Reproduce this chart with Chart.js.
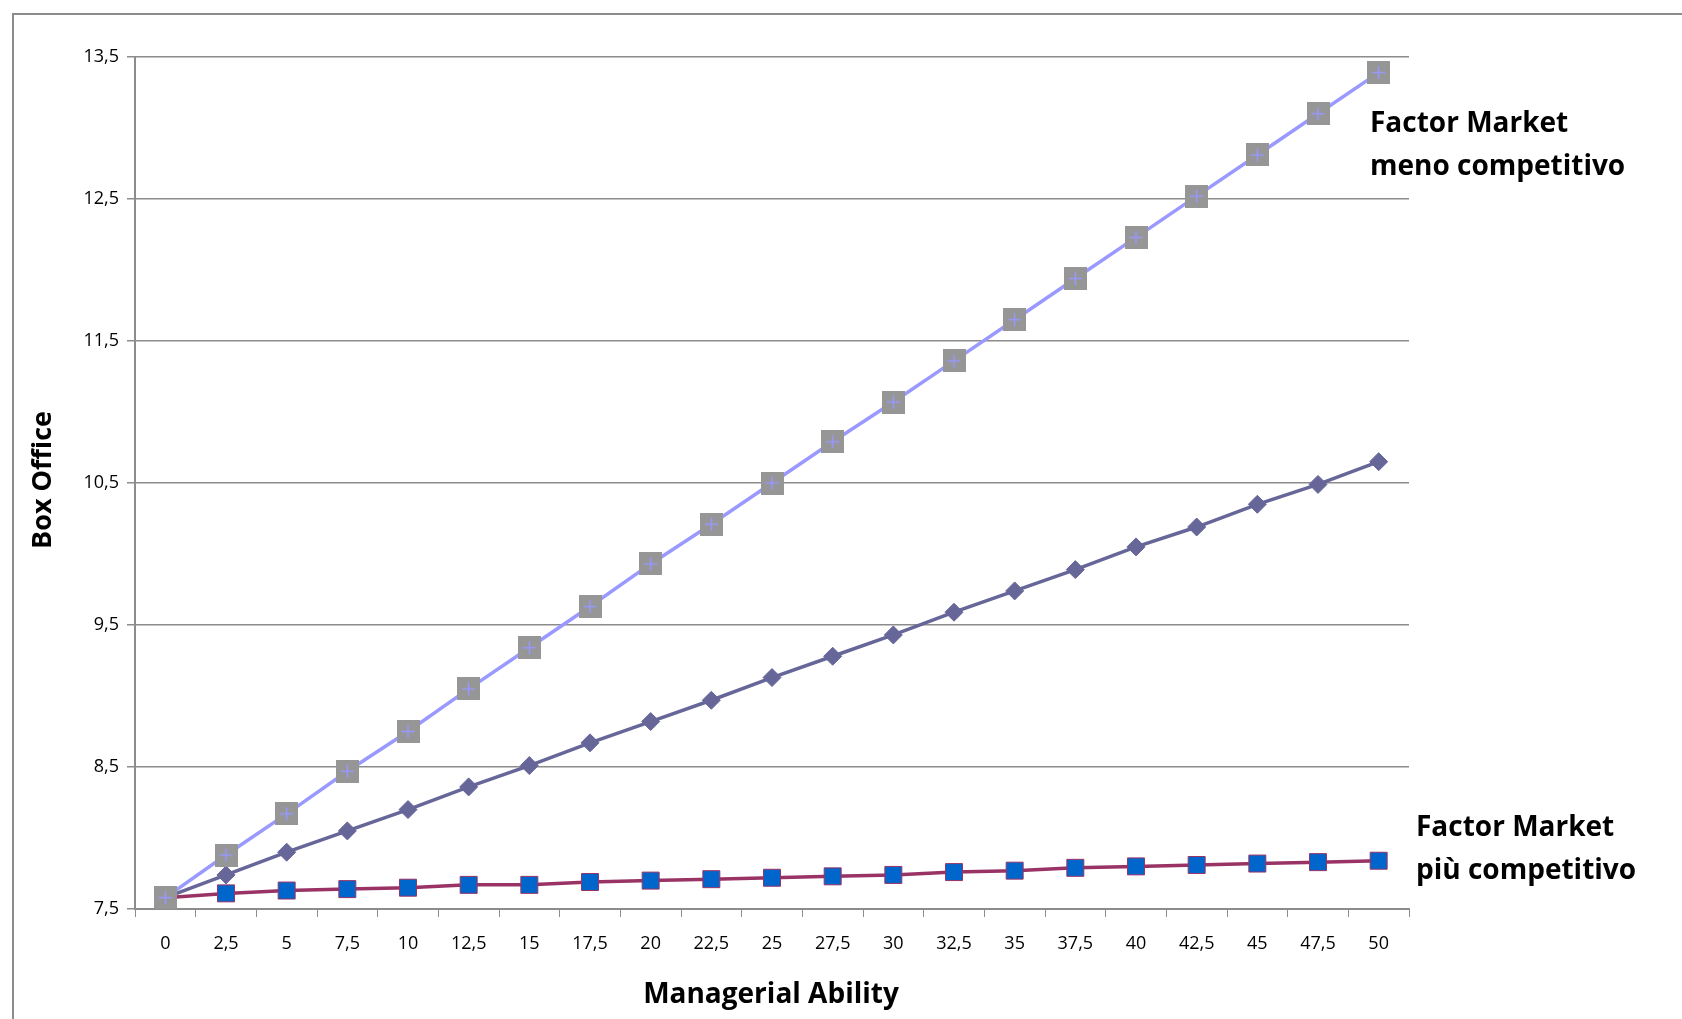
<!DOCTYPE html>
<html>
<head>
<meta charset="utf-8">
<script src="https://cdn.jsdelivr.net/npm/chart.js@4.4.1/dist/chart.umd.min.js"></script>
<style>
  body { margin: 0; background: #fff; overflow: hidden; }
  #wrap { position: relative; width: 1682px; height: 1019px; }
  #frame { position: absolute; left: 12px; top: 13px; width: 1700px; height: 1100px; border: 2px solid #8c8c8c; }
  #chart { position: absolute; left: 0; top: 0; }
</style>
</head>
<body>
<div id="wrap">
  <div id="frame"></div>
  <canvas id="chart" width="1682" height="1019"></canvas>
</div>
<script>
// Managerial Ability (x categories)
const abilities = ['0', '2,5', '5', '7,5', '10', '12,5', '15', '17,5', '20', '22,5', '25',
                   '27,5', '30', '32,5', '35', '37,5', '40', '42,5', '45', '47,5', '50'];

// Box Office - factor market meno competitivo
const menoCompetitivo = [7.58, 7.88, 8.17, 8.47, 8.75, 9.05, 9.34, 9.63, 9.93, 10.21, 10.5,
                         10.79, 11.07, 11.36, 11.65, 11.94, 12.23, 12.52, 12.81, 13.1, 13.39];

// Box Office - middle series (diamonds)
const intermedio = [7.58, 7.74, 7.9, 8.05, 8.2, 8.36, 8.51, 8.67, 8.82, 8.97, 9.13,
                    9.28, 9.43, 9.59, 9.74, 9.89, 10.05, 10.19, 10.35, 10.49, 10.65];

// Box Office - factor market più competitivo
const piuCompetitivo = [7.58, 7.61, 7.63, 7.64, 7.65, 7.67, 7.67, 7.69, 7.7, 7.71, 7.72,
                        7.73, 7.74, 7.76, 7.77, 7.79, 7.8, 7.81, 7.82, 7.83, 7.84];

const yTicks = { min: 7.5, max: 13.5, step: 1 };

// gray square with a light blue cross
function crossSquare() {
  const c = document.createElement('canvas');
  c.width = 23; c.height = 23;
  const g = c.getContext('2d');
  g.fillStyle = '#969696';
  g.fillRect(0, 0, 23, 23);
  g.strokeStyle = '#9999ff';
  g.lineWidth = 1.5;
  g.beginPath();
  g.moveTo(11.5, 5); g.lineTo(11.5, 18);
  g.moveTo(5, 11.5); g.lineTo(18, 11.5);
  g.stroke();
  return c;
}

const textsPlugin = {
  id: 'texts',
  afterDraw(chart) {
    const ctx = chart.ctx;
    ctx.save();
    ctx.fillStyle = '#000';
    ctx.textBaseline = 'middle';
    ctx.textAlign = 'left';
    ctx.font = 'bold 28px "Open Sans"';
    ctx.fillText('Factor Market', 1370, 124);
    ctx.fillText('meno competitivo', 1370, 167);
    ctx.fillText('Factor Market', 1416, 828);
    ctx.fillText('più competitivo', 1416, 871);

    ctx.textAlign = 'center';
    ctx.font = 'bold 28px "Open Sans"';
    ctx.fillText('Managerial Ability', 771, 995);

    ctx.translate(43, 480);
    ctx.rotate(-Math.PI / 2);
    ctx.font = 'bold 27px "Open Sans"';
    ctx.fillText('Box Office', 0, 0);
    ctx.restore();
  }
};

new Chart(document.getElementById('chart'), {
  type: 'line',
  data: {
    labels: abilities,
    datasets: [
      {
        label: 'Factor Market meno competitivo',
        data: menoCompetitivo,
        borderColor: '#9999ff',
        borderWidth: 3.5,
        pointStyle: crossSquare(),
        order: 0
      },
      {
        label: 'intermedio',
        data: intermedio,
        borderColor: '#666699',
        borderWidth: 3.5,
        pointStyle: 'rectRot',
        pointRadius: 9,
        pointBackgroundColor: '#666699',
        pointBorderColor: '#666699',
        pointBorderWidth: 1,
        order: 1
      },
      {
        label: 'Factor Market più competitivo',
        data: piuCompetitivo,
        borderColor: '#993366',
        borderWidth: 3.5,
        pointStyle: 'rect',
        pointRadius: 12,
        pointBackgroundColor: '#0066cc',
        pointBorderColor: '#993366',
        pointBorderWidth: 1,
        order: 2
      }
    ]
  },
  options: {
    responsive: false,
    animation: false,
    layout: { padding: { top: 57, right: 273, left: 0, bottom: 0 } },
    elements: { line: { tension: 0 } },
    plugins: { legend: { display: false }, tooltip: { enabled: false } },
    scales: {
      x: {
        type: 'category',
        offset: true,
        grid: { offset: true, drawOnChartArea: false, color: '#8c8c8c', tickLength: 8 },
        border: { color: '#8c8c8c', width: 2 },
        ticks: { color: '#000', font: { family: 'Open Sans', size: 18 }, padding: 16, maxRotation: 0, autoSkip: false },
        afterFit(scale) { scale.height = 1019 - 909; }
      },
      y: {
        min: yTicks.min,
        max: yTicks.max,
        grid: { color: '#8c8c8c', lineWidth: 1.5, tickLength: 8 },
        border: { color: '#8c8c8c', width: 2 },
        ticks: {
          stepSize: yTicks.step,
          color: '#000',
          font: { family: 'Open Sans', size: 18 },
          padding: 8,
          callback: v => String(v).replace('.', ',')
        },
        afterFit(scale) { scale.width = 135; }
      }
    }
  },
  plugins: [textsPlugin]
});
</script>
</body>
</html>
